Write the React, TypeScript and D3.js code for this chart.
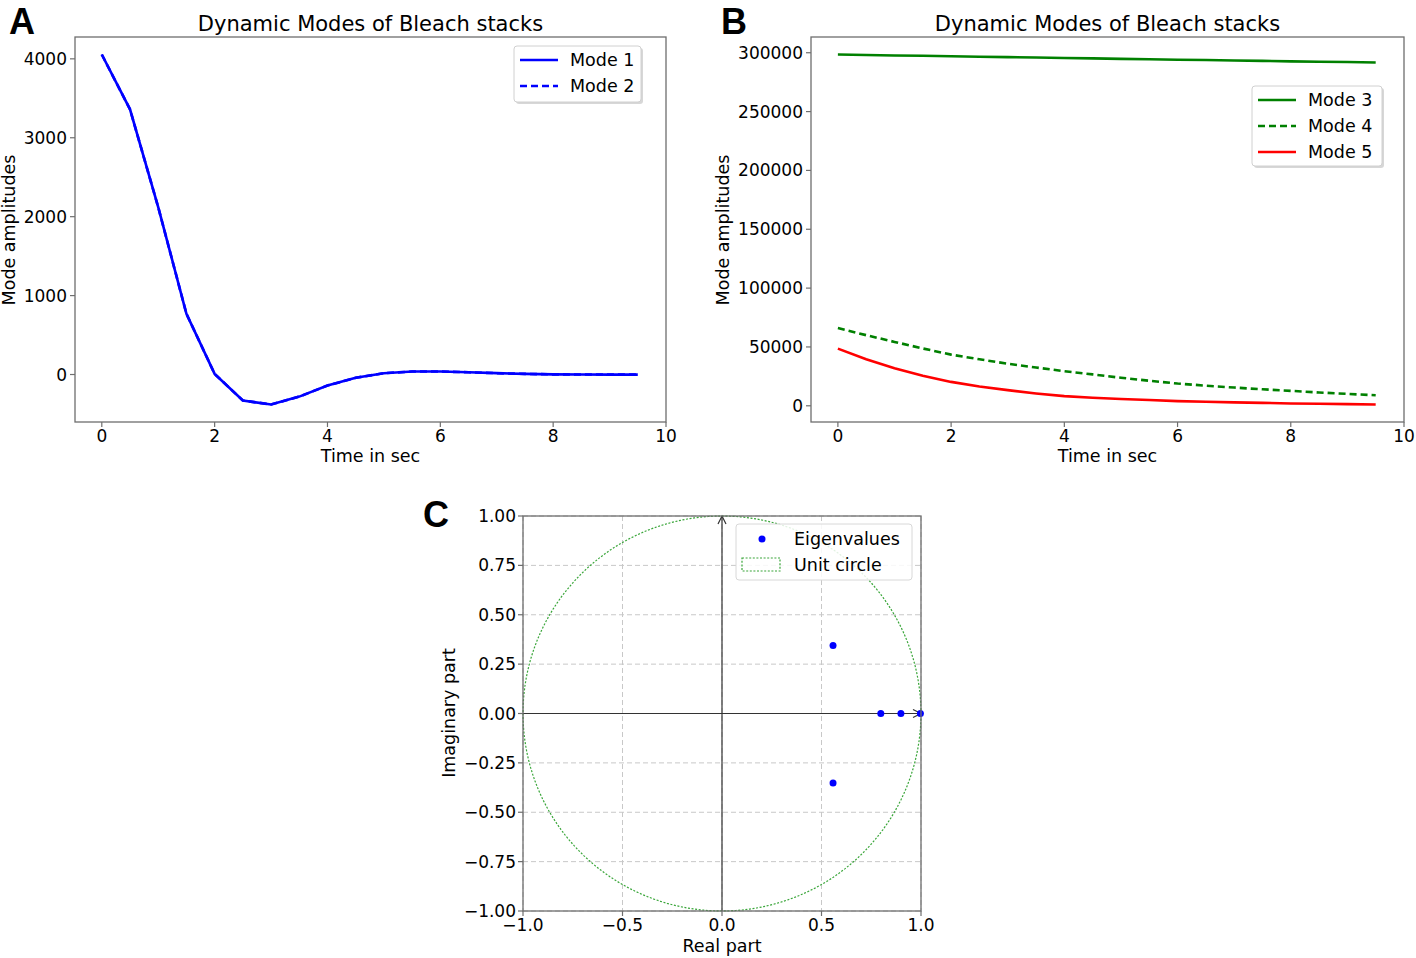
import React from "react";
import * as d3 from "d3";

const times = [0, 0.5, 1, 1.5, 2, 2.5, 3, 3.5, 4, 4.5, 5, 5.5, 6, 6.5, 7, 7.5, 8, 8.5, 9, 9.5];
const mode1 = [4055, 3360, 2120, 770, 8, -330, -380, -280, -140, -42, 17, 38, 38, 28, 17, 8, 2, 0, -1, -1];
const mode2 = mode1.slice();
const mode3 = [298500, 298100, 297700, 297400, 297000, 296600, 296300, 295900, 295500, 295200, 294800, 294500, 294100, 293800, 293400, 293100, 292700, 292400, 292100, 291700];
const mode4 = [66100, 60000, 54300, 48700, 43500, 39500, 35800, 32500, 29400, 26700, 23800, 21300, 18900, 17100, 15500, 14000, 12700, 11300, 10100, 9000];
const mode5 = [48600, 39500, 32000, 25500, 20300, 16400, 13300, 10500, 8200, 6900, 5800, 4900, 4000, 3400, 2900, 2500, 2000, 1700, 1400, 1100];

const xTicksAB = [0, 2, 4, 6, 8, 10];
const yTicksA = [0, 1000, 2000, 3000, 4000];
const yTicksB = [0, 50000, 100000, 150000, 200000, 250000, 300000];
const ticksC = [-1, -0.75, -0.5, -0.25, 0, 0.25, 0.5, 0.75, 1];
const xTicksC = [-1, -0.5, 0, 0.5, 1];

const eigRe = [0.558, 0.558, 0.798, 0.899, 0.997];
const eigIm = [0.344, -0.352, 0, 0, 0];

const FONT = "DejaVu Sans, sans-serif";
const SPINE = "#6e6e6e";
const TICK_FS = 17;
const LABEL_FS = 17.5;

function fmtMinus(s: string) {
  return s.replace("-", "\u2212");
}

type Series = { values: number[]; color: string; dash?: string; name: string };

function LinePanel(props: {
  left: number; right: number; top: number; bottom: number;
  xDomain: [number, number]; series: Series[]; yTicks: number[];
  legend: { x: number; y: number; w: number; h: number };
  panelLetter: string; letterX: number; letterY: number; ylabelX: number;
}) {
  const { left, right, top, bottom, xDomain, series, yTicks, legend } = props;
  const all = series.flatMap((s) => s.values);
  const mn = d3.min(all)!;
  const mx = d3.max(all)!;
  const pad = (mx - mn) * 0.05;
  const x = d3.scaleLinear().domain(xDomain).range([left, right]);
  const y = d3.scaleLinear().domain([mn - pad, mx + pad]).range([bottom, top]);
  const line = (vals: number[]) =>
    d3.line<number>().x((_, i) => x(times[i])).y((v) => y(v))(vals) || "";
  const cx = (left + right) / 2;
  return (
    <g>
      <text x={props.letterX} y={props.letterY} fontFamily="Liberation Sans, Arial, sans-serif" fontWeight="bold" fontSize={36}>{props.panelLetter}</text>
      <text x={cx} y={31} textAnchor="middle" fontFamily={FONT} fontSize={21}>Dynamic Modes of Bleach stacks</text>
      {series.map((s, i) => (
        <path key={i} d={line(s.values)} fill="none" stroke={s.color} strokeWidth={2.6} strokeDasharray={s.dash} />
      ))}
      <rect x={left} y={top} width={right - left} height={bottom - top} fill="none" stroke={SPINE} strokeWidth={1.3} />
      {xTicksAB.map((t) => (
        <g key={t}>
          <line x1={x(t)} x2={x(t)} y1={bottom} y2={bottom + 5} stroke={SPINE} strokeWidth={1.2} />
          <text x={x(t)} y={bottom + 20} textAnchor="middle" fontFamily={FONT} fontSize={TICK_FS}>{t}</text>
        </g>
      ))}
      {yTicks.map((t) => (
        <g key={t}>
          <line x1={left - 5} x2={left} y1={y(t)} y2={y(t)} stroke={SPINE} strokeWidth={1.2} />
          <text x={left - 8} y={y(t) + 6} textAnchor="end" fontFamily={FONT} fontSize={TICK_FS}>{t}</text>
        </g>
      ))}
      <text x={cx} y={462} textAnchor="middle" fontFamily={FONT} fontSize={LABEL_FS}>Time in sec</text>
      <text transform={`translate(${props.ylabelX},230) rotate(-90)`} textAnchor="middle" fontFamily={FONT} fontSize={LABEL_FS}>Mode amplitudes</text>
      <g>
        <rect x={legend.x + 2} y={legend.y + 2} width={legend.w} height={legend.h} rx={3} fill="#b0b0b0" opacity={0.5} />
        <rect x={legend.x} y={legend.y} width={legend.w} height={legend.h} rx={3} fill="#fff" stroke="#d0d0d0" strokeWidth={1} />
        {series.map((s, i) => {
          const ly = legend.y + 14 + i * 26;
          return (
            <g key={i}>
              <line x1={legend.x + 6} x2={legend.x + 44} y1={ly} y2={ly} stroke={s.color} strokeWidth={2.6} strokeDasharray={s.dash} />
              <text x={legend.x + 56} y={ly + 6} fontFamily={FONT} fontSize={LABEL_FS}>{s.name}</text>
            </g>
          );
        })}
      </g>
    </g>
  );
}

function PanelC() {
  const left = 523, right = 921, top = 516, bottom = 911;
  const x = d3.scaleLinear().domain([-1, 1]).range([left, right]);
  const y = d3.scaleLinear().domain([-1, 1]).range([bottom, top]);
  const circle = d3.range(0, 361, 2).map((a) => [Math.cos((a * Math.PI) / 180), Math.sin((a * Math.PI) / 180)] as [number, number]);
  const circlePath = d3.line<[number, number]>().x((d) => x(d[0])).y((d) => y(d[1]))(circle) || "";
  const ax = "#333";
  return (
    <g>
      <text x={423} y={527} fontFamily="Liberation Sans, Arial, sans-serif" fontWeight="bold" fontSize={36}>C</text>
      {xTicksC.map((t) => (
        <line key={"gx" + t} x1={x(t)} x2={x(t)} y1={top} y2={bottom} stroke="#c8c8c8" strokeWidth={1} strokeDasharray="5,3" />
      ))}
      {ticksC.map((t) => (
        <line key={"gy" + t} x1={left} x2={right} y1={y(t)} y2={y(t)} stroke="#c8c8c8" strokeWidth={1} strokeDasharray="5,3" />
      ))}
      <path d={circlePath} fill="none" stroke="#3aa63a" strokeWidth={1.2} strokeDasharray="2,1.6" />
      <line x1={x(0)} x2={x(0)} y1={y(-1)} y2={y(1)} stroke={ax} strokeWidth={1.2} />
      <path d={`M${x(0) - 4},${y(1) + 8} L${x(0)},${y(1)} L${x(0) + 4},${y(1) + 8}`} fill="none" stroke={ax} strokeWidth={1.2} />
      <line x1={x(-1)} x2={x(1)} y1={y(0)} y2={y(0)} stroke={ax} strokeWidth={1.2} />
      <path d={`M${x(1) - 8},${y(0) - 4} L${x(1)},${y(0)} L${x(1) - 8},${y(0) + 4}`} fill="none" stroke={ax} strokeWidth={1.2} />
      {eigRe.map((r, i) => (
        <circle key={i} cx={x(r)} cy={y(eigIm[i])} r={3.5} fill="#0000ff" />
      ))}
      <rect x={left} y={top} width={right - left} height={bottom - top} fill="none" stroke={SPINE} strokeWidth={1.3} />
      {xTicksC.map((t) => (
        <g key={"tx" + t}>
          <line x1={x(t)} x2={x(t)} y1={bottom} y2={bottom + 5} stroke={SPINE} strokeWidth={1.2} />
          <text x={x(t)} y={bottom + 20} textAnchor="middle" fontFamily={FONT} fontSize={TICK_FS}>{fmtMinus(d3.format(".1f")(t))}</text>
        </g>
      ))}
      {ticksC.map((t) => (
        <g key={"ty" + t}>
          <line x1={left - 5} x2={left} y1={y(t)} y2={y(t)} stroke={SPINE} strokeWidth={1.2} />
          <text x={left - 7} y={y(t) + 6} textAnchor="end" fontFamily={FONT} fontSize={TICK_FS}>{fmtMinus(d3.format(".2f")(t))}</text>
        </g>
      ))}
      <text x={(left + right) / 2} y={952} textAnchor="middle" fontFamily={FONT} fontSize={LABEL_FS}>Real part</text>
      <text transform={`translate(455,713) rotate(-90)`} textAnchor="middle" fontFamily={FONT} fontSize={LABEL_FS}>Imaginary part</text>
      <g>
        <rect x={736} y={524} width={176} height={56} rx={3} fill="#fff" fillOpacity={0.85} stroke="#d8d8d8" />
        <circle cx={762} cy={539} r={3.5} fill="#0000ff" />
        <text x={794} y={545} fontFamily={FONT} fontSize={LABEL_FS}>Eigenvalues</text>
        <rect x={742} y={558} width={38} height={13} fill="none" stroke="#3aa63a" strokeWidth={1.2} strokeDasharray="2,1.6" />
        <text x={794} y={571} fontFamily={FONT} fontSize={LABEL_FS}>Unit circle</text>
      </g>
    </g>
  );
}

export default function App() {
  return (
    <svg width={1416} height={958} style={{ position: "absolute", left: 0, top: 0, background: "#fff" }}>
      <LinePanel
        left={75} right={666} top={37} bottom={422}
        xDomain={[-0.475, 10]}
        series={[
          { values: mode1, color: "#0000ff", name: "Mode 1" },
          { values: mode2, color: "#0000ff", dash: "7,4", name: "Mode 2" },
        ]}
        yTicks={yTicksA}
        legend={{ x: 514, y: 46, w: 127, h: 56 }}
        panelLetter="A" letterX={9} letterY={34} ylabelX={15}
      />
      <LinePanel
        left={811} right={1404} top={37} bottom={422}
        xDomain={[-0.475, 10]}
        series={[
          { values: mode3, color: "#008000", name: "Mode 3" },
          { values: mode4, color: "#008000", dash: "7,4", name: "Mode 4" },
          { values: mode5, color: "#ff0000", name: "Mode 5" },
        ]}
        yTicks={yTicksB}
        legend={{ x: 1252, y: 86, w: 130, h: 80 }}
        panelLetter="B" letterX={721} letterY={34} ylabelX={729}
      />
      <PanelC />
    </svg>
  );
}
